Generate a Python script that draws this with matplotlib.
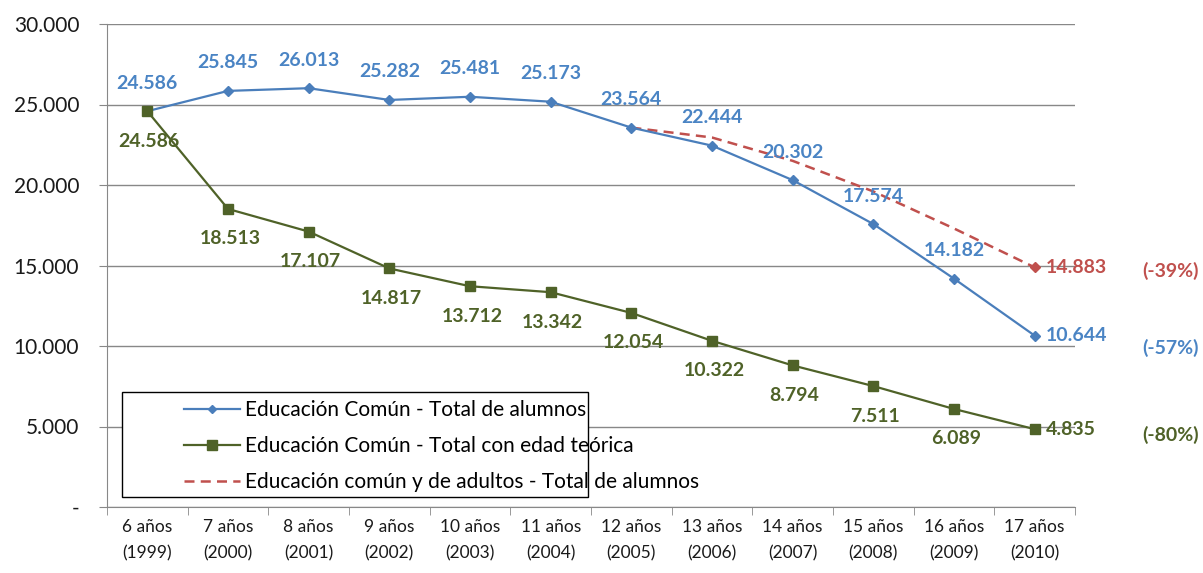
import matplotlib
matplotlib.use("Agg")
import matplotlib.pyplot as plt
from matplotlib.ticker import FuncFormatter, FixedLocator
from matplotlib.patches import Rectangle

plt.rcParams['font.family'] = ['Lato', 'DejaVu Sans']

categories = ["6 años\n(1999)", "7 años\n(2000)", "8 años\n(2001)", "9 años\n(2002)",
              "10 años\n(2003)", "11 años\n(2004)", "12 años\n(2005)", "13 años\n(2006)",
              "14 años\n(2007)", "15 años\n(2008)", "16 años\n(2009)", "17 años\n(2010)"]
total_alumnos = [24586, 25845, 26013, 25282, 25481, 25173, 23564, 22444, 20302, 17574, 14182, 10644]
edad_teorica = [24586, 18513, 17107, 14817, 13712, 13342, 12054, 10322, 8794, 7511, 6089, 4835]
adultos_idx = [6, 7, 8, 9, 10, 11]
adultos = [23564, 22950, 21500, 19600, 17300, 14883]
pct_labels = ["(-39%)", "(-57%)", "(-80%)"]
legend_labels = ["Educación Común - Total de alumnos",
                 "Educación Común - Total con edad teórica",
                 "Educación común y de adultos - Total de alumnos"]

BLUE = "#4A7EBB"
BLUE_TXT = "#4A84C4"
GREEN = "#4F6228"
RED = "#C0504D"

W, H = 1203, 573
fig = plt.figure(figsize=(W/100, H/100), dpi=100)
ax = fig.add_axes([107/W, 1-507/H, (1075-107)/W, (507-24)/H])

x = list(range(len(categories)))
lb, = ax.plot(x, total_alumnos, color=BLUE, lw=1.6, marker='D', ms=5, zorder=4)
lg, = ax.plot(x, edad_teorica, color=GREEN, lw=1.6, marker='s', ms=7, zorder=4)
lr, = ax.plot(adultos_idx, adultos, color=RED, lw=1.8, ls=(0, (4, 2.5)), zorder=3)
ax.plot(adultos_idx[-1:], adultos[-1:], color=RED, marker='D', ms=5, ls='none', zorder=4)

ax.set_xlim(-0.5, 11.5)
ax.set_ylim(0, 30000)
ax.yaxis.set_major_locator(FixedLocator([0, 5000, 10000, 15000, 20000, 25000, 30000]))
ax.yaxis.set_major_formatter(FuncFormatter(lambda v, p: "-" if v == 0 else f"{int(v):,}".replace(",", ".")))
ax.grid(axis='y', color='#888888', lw=1)
ax.set_axisbelow(True)
for s in ['top', 'right']:
    ax.spines[s].set_visible(False)
for s in ['left', 'bottom']:
    ax.spines[s].set_color('#888888')
ax.set_xticks(x)
ax.set_xticklabels(categories, fontsize=12.5, color='#1a1a1a', linespacing=1.75)
ax.set_xticks([i - 0.5 for i in range(13)], minor=True)
ax.tick_params(axis='x', which='major', length=0, pad=9)
ax.tick_params(axis='x', which='minor', length=6, color='#888888')
ax.tick_params(axis='y', length=6, color='#888888', labelsize=15, labelcolor='#1a1a1a', pad=14)

k = 0.72
for i, v in enumerate(total_alumnos):
    if i == 11:
        ax.annotate(f"{v:,}".replace(",", "."), (i, v), xytext=(11*k, 0), textcoords='offset points',
                    ha='left', va='center', color=BLUE_TXT, fontsize=14, fontweight='bold')
    else:
        ax.annotate(f"{v:,}".replace(",", "."), (i, v), xytext=(0, 28*k), textcoords='offset points',
                    ha='center', va='center', color=BLUE_TXT, fontsize=14, fontweight='bold')
for i, v in enumerate(edad_teorica):
    if i == 11:
        ax.annotate(f"{v:,}".replace(",", "."), (i, v), xytext=(11*k, 0), textcoords='offset points',
                    ha='left', va='center', color=GREEN, fontsize=14, fontweight='bold')
    else:
        ax.annotate(f"{v:,}".replace(",", "."), (i, v), xytext=(2*k, -30*k), textcoords='offset points',
                    ha='center', va='center', color=GREEN, fontsize=14, fontweight='bold')
ax.annotate(f"{adultos[-1]:,}".replace(",", "."), (adultos_idx[-1], adultos[-1]), xytext=(11*k, 0),
            textcoords='offset points', ha='left', va='center', color=RED, fontsize=14, fontweight='bold')

pct_y = [adultos[-1], total_alumnos[-1], edad_teorica[-1]]
pct_dy = [-4, -12, -6]
for lab, yv, dy, c in zip(pct_labels, pct_y, pct_dy, [RED, BLUE_TXT, GREEN]):
    ax.annotate(lab, (11, yv), xytext=(108*k, dy*k), textcoords='offset points',
                ha='left', va='center', color=c, fontsize=14, fontweight='bold', annotation_clip=False)

# legend box (Excel style, handles indented)
box = Rectangle((122/W, 1-497/H), (588-122)/W, (497-392)/H, transform=fig.transFigure,
                facecolor='white', edgecolor='black', lw=1.0, zorder=5)
fig.add_artist(box)
leg = fig.legend([lb, lg, lr], legend_labels, loc='upper left',
                 bbox_to_anchor=(184/W, 1-400/H), bbox_transform=fig.transFigure,
                 fontsize=15, frameon=False, handlelength=2.7,
                 borderpad=0, labelspacing=0.78, borderaxespad=0, handletextpad=0.25)
leg.set_zorder(6)
leg.legend_handles[0].set_markersize(4)
leg.legend_handles[1].set_markersize(7)

fig.savefig("out.png", dpi=100)
